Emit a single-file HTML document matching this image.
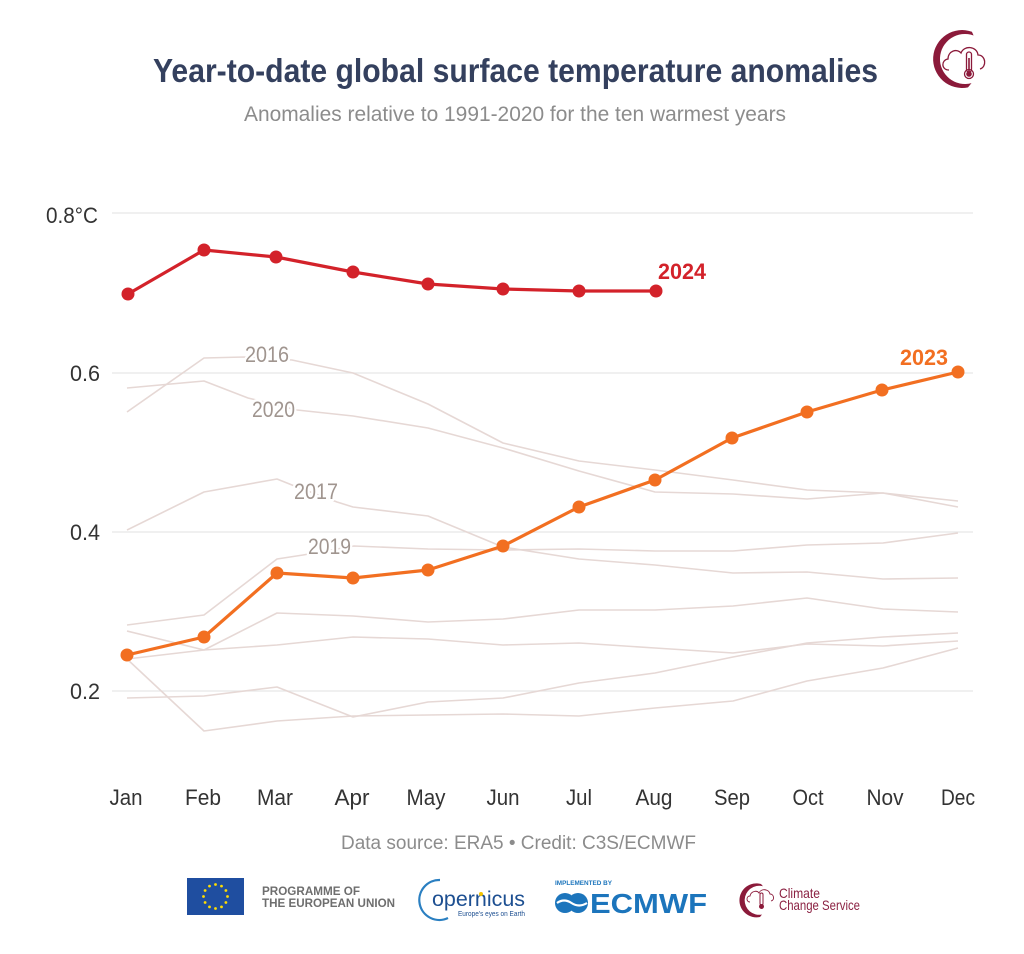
<!DOCTYPE html>
<html><head><meta charset="utf-8"><style>
html,body{margin:0;padding:0;background:#fff;}
svg{display:block;}
text{font-family:"Liberation Sans",sans-serif;}
</style></head><body>
<svg width="1024" height="954" viewBox="0 0 1024 954" xmlns="http://www.w3.org/2000/svg">
<rect width="1024" height="954" fill="#fff"/>
<!-- Title -->
<text x="153" y="82" font-size="33" font-weight="bold" fill="#34405e" textLength="725" lengthAdjust="spacingAndGlyphs">Year-to-date global surface temperature anomalies</text>
<text x="244" y="121" font-size="21" fill="#8c8c8c" textLength="542" lengthAdjust="spacingAndGlyphs">Anomalies relative to 1991-2020 for the ten warmest years</text>

<!-- Header icon -->
<g fill="#8b1a3a">
<path d="M971.9 31.7 A29 29 0 1 0 968 87.4 L971.5 83.1 A25 25 0 1 1 973.6 35.5 Z"/>
</g>
<g fill="none" stroke="#8b1a3a" stroke-width="1.3">
<path d="M949 70 C941 70 941 60 948 59 C948 51 957 48 961 53 C964 45 977 46 978 55 C986 55 987 67 980 69"/>
<rect x="966.5" y="52" width="5" height="20" rx="2.5"/>
<circle cx="969" cy="74" r="4.5"/>
</g>
<rect x="968.2" y="58" width="1.6" height="14" fill="#8b1a3a"/>
<circle cx="969" cy="74" r="2.8" fill="#8b1a3a"/>

<!-- Gridlines -->
<g stroke="#e6e6e6" stroke-width="1.3">
<line x1="112" y1="213" x2="973" y2="213"/>
<line x1="112" y1="373" x2="973" y2="373"/>
<line x1="112" y1="532" x2="973" y2="532"/>
<line x1="112" y1="691" x2="973" y2="691"/>
</g>
<!-- Y labels -->
<g font-size="22" fill="#333">
<text x="46" y="223" textLength="52" lengthAdjust="spacingAndGlyphs">0.8°C</text>
<text x="70" y="381" textLength="30" lengthAdjust="spacingAndGlyphs">0.6</text>
<text x="70" y="540" textLength="30" lengthAdjust="spacingAndGlyphs">0.4</text>
<text x="70" y="699" textLength="30" lengthAdjust="spacingAndGlyphs">0.2</text>
</g>

<!-- Gray lines -->
<g fill="none" stroke="#e6d8d5" stroke-width="1.6" stroke-linejoin="round">
<polyline points="127,412 204,358 244,357 292,360 353,373 428,404 503,443 579,461 655,470 733,480 807,490 883,493 958,501"/>
<polyline points="127,388 204,381 248,398 297,410 353,416 428,428 503,448 579,471 655,492 733,494 807,499 883,493 958,507"/>
<polyline points="127,530 204,492 277,479 292,485 337,502 353,507 428,516 503,547 579,559 655,565 733,573 807,572 883,579 958,578"/>
<polyline points="127,625 204,615 277,559 303,555 354,546 428,549 503,550 579,549 655,551 733,551 807,545 883,543 958,533"/>
<polyline points="127,631 204,650 277,613 353,616 428,622 503,619 579,610 655,610 733,606 807,598 883,609 958,612"/>
<polyline points="127,659 204,650 277,645 353,637 428,639 503,645 579,643 655,648 733,653 807,644 883,646 958,641"/>
<polyline points="127,698 204,696 277,687 353,717 428,702 503,698 579,683 655,673 733,657 807,643 883,637 958,633"/>
<polyline points="127,659 204,731 277,721 353,716 428,715 503,714 579,716 655,708 733,701 807,681 883,668 958,648"/>
</g>
<!-- Gray year labels -->
<g font-size="22" fill="#a0958f" stroke="#fff" stroke-width="5" paint-order="stroke" stroke-linejoin="round">
<text x="245" y="362" textLength="44" lengthAdjust="spacingAndGlyphs">2016</text>
<text x="252" y="417" textLength="43" lengthAdjust="spacingAndGlyphs">2020</text>
<text x="294" y="499" textLength="44" lengthAdjust="spacingAndGlyphs">2017</text>
<text x="308" y="554" textLength="43" lengthAdjust="spacingAndGlyphs">2019</text>
</g>

<!-- 2023 -->
<polyline fill="none" stroke="#f26f21" stroke-width="3.2" stroke-linejoin="round" points="127,655 204,637 277,573 353,578 428,570 503,546 579,507 655,480 732,438 807,412 882,390 958,372"/>
<g fill="#f26f21">
<circle cx="127" cy="655" r="6.5"/><circle cx="204" cy="637" r="6.5"/><circle cx="277" cy="573" r="6.5"/><circle cx="353" cy="578" r="6.5"/><circle cx="428" cy="570" r="6.5"/><circle cx="503" cy="546" r="6.5"/><circle cx="579" cy="507" r="6.5"/><circle cx="655" cy="480" r="6.5"/><circle cx="732" cy="438" r="6.5"/><circle cx="807" cy="412" r="6.5"/><circle cx="882" cy="390" r="6.5"/><circle cx="958" cy="372" r="6.5"/>
</g>
<text x="900" y="365" font-size="22" font-weight="bold" fill="#f26f21" textLength="48" lengthAdjust="spacingAndGlyphs">2023</text>

<!-- 2024 -->
<polyline fill="none" stroke="#d3222a" stroke-width="3.2" stroke-linejoin="round" points="128,294 204,250 276,257 353,272 428,284 503,289 579,291 656,291"/>
<g fill="#d3222a">
<circle cx="128" cy="294" r="6.5"/><circle cx="204" cy="250" r="6.5"/><circle cx="276" cy="257" r="6.5"/><circle cx="353" cy="272" r="6.5"/><circle cx="428" cy="284" r="6.5"/><circle cx="503" cy="289" r="6.5"/><circle cx="579" cy="291" r="6.5"/><circle cx="656" cy="291" r="6.5"/>
</g>
<text x="658" y="279" font-size="22" font-weight="bold" fill="#d3222a" textLength="48" lengthAdjust="spacingAndGlyphs">2024</text>

<!-- Month labels -->
<g font-size="22" fill="#333" text-anchor="middle">
<text x="126" y="805" textLength="33" lengthAdjust="spacingAndGlyphs">Jan</text>
<text x="203" y="805" textLength="36" lengthAdjust="spacingAndGlyphs">Feb</text>
<text x="275" y="805" textLength="36" lengthAdjust="spacingAndGlyphs">Mar</text>
<text x="352" y="805" textLength="35" lengthAdjust="spacingAndGlyphs">Apr</text>
<text x="426" y="805" textLength="39" lengthAdjust="spacingAndGlyphs">May</text>
<text x="503" y="805" textLength="33" lengthAdjust="spacingAndGlyphs">Jun</text>
<text x="579" y="805" textLength="26" lengthAdjust="spacingAndGlyphs">Jul</text>
<text x="654" y="805" textLength="37" lengthAdjust="spacingAndGlyphs">Aug</text>
<text x="732" y="805" textLength="36" lengthAdjust="spacingAndGlyphs">Sep</text>
<text x="808" y="805" textLength="31" lengthAdjust="spacingAndGlyphs">Oct</text>
<text x="885" y="805" textLength="37" lengthAdjust="spacingAndGlyphs">Nov</text>
<text x="958" y="805" textLength="34" lengthAdjust="spacingAndGlyphs">Dec</text>
</g>
<text x="341" y="849" font-size="19" fill="#8c8c8c" textLength="355" lengthAdjust="spacingAndGlyphs">Data source: ERA5 • Credit: C3S/ECMWF</text>

<!-- EU flag -->
<rect x="187" y="878" width="57" height="37" fill="#1f4ea0"/>
<g fill="#ffdd00">
<circle cx="215.5" cy="884.5" r="1.4"/><circle cx="221.5" cy="886.1" r="1.4"/><circle cx="225.9" cy="890.5" r="1.4"/><circle cx="227.5" cy="896.5" r="1.4"/><circle cx="225.9" cy="902.5" r="1.4"/><circle cx="221.5" cy="906.9" r="1.4"/><circle cx="215.5" cy="908.5" r="1.4"/><circle cx="209.5" cy="906.9" r="1.4"/><circle cx="205.1" cy="902.5" r="1.4"/><circle cx="203.5" cy="896.5" r="1.4"/><circle cx="205.1" cy="890.5" r="1.4"/><circle cx="209.5" cy="886.1" r="1.4"/>
</g>
<g font-size="11.5" font-weight="bold" fill="#6e6e6e">
<text x="262" y="895" textLength="98" lengthAdjust="spacingAndGlyphs">PROGRAMME OF</text>
<text x="262" y="907" textLength="133" lengthAdjust="spacingAndGlyphs">THE EUROPEAN UNION</text>
</g>

<!-- Copernicus -->
<path d="M440 880 A20 20 0 1 0 448 918" fill="none" stroke="#2a7fc1" stroke-width="2.2"/>
<text x="432" y="906" font-size="21" fill="#1d4f91" textLength="93" lengthAdjust="spacingAndGlyphs">opernicus</text>
<circle cx="481" cy="894" r="2" fill="#f4c400"/>
<text x="458" y="916" font-size="7" fill="#1d4f91" textLength="67" lengthAdjust="spacingAndGlyphs">Europe's eyes on Earth</text>

<!-- ECMWF -->
<text x="555" y="885" font-size="6" font-weight="bold" fill="#1c75bc" textLength="57" lengthAdjust="spacingAndGlyphs">IMPLEMENTED BY</text>
<g fill="#1c75bc">
<circle cx="565" cy="903" r="10"/><circle cx="578" cy="903" r="10"/>
</g>
<g stroke="#fff" stroke-width="2.2" fill="none">
<path d="M557 903 Q564 898 571.5 903 Q579 908 587 903"/>
<path d="M560 899 L586 899" stroke-width="0"/>
</g>
<text x="590" y="913" font-size="28" font-weight="bold" fill="#1c75bc" textLength="117" lengthAdjust="spacingAndGlyphs">ECMWF</text>

<!-- Climate Change Service -->
<path d="M761 884 A17 17 0 1 0 760 917 L762 914.5 A14.5 14.5 0 1 1 763 886.3 Z" fill="#8b1a3a"/>
<rect x="760" y="893" width="3" height="12" rx="1.5" fill="none" stroke="#8b1a3a" stroke-width="1"/>
<circle cx="761.5" cy="906.5" r="2.5" fill="#8b1a3a"/>
<path d="M750 902 C746 902 746 896 750 896 C751 891 757 890 759 893 C761 888 769 889 770 894 C774 894 775 900 771 901" fill="none" stroke="#8b1a3a" stroke-width="0.9"/>
<g font-size="14" fill="#8b2142">
<text x="779" y="898" textLength="41" lengthAdjust="spacingAndGlyphs">Climate</text>
<text x="779" y="910" textLength="81" lengthAdjust="spacingAndGlyphs">Change Service</text>
</g>
</svg>
</body></html>
